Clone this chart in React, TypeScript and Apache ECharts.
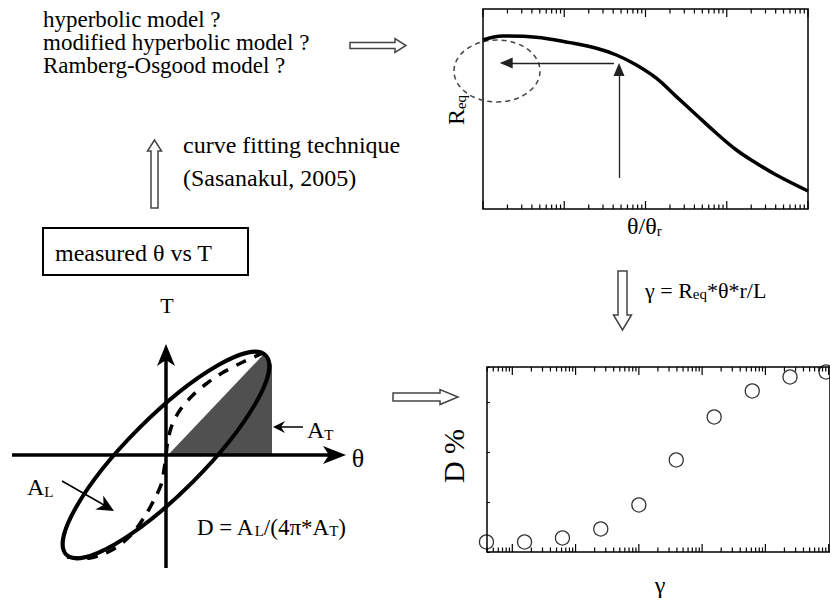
import React, { useEffect, useRef } from 'react';
import * as echarts from 'echarts';

const FONT = 'Liberation Serif, serif';

// ---- Top chart: R_eq versus θ/θr (log axis) ----
const THETA_RATIO = [0.0001, 0.000176, 0.00045, 0.00117, 0.00249, 0.00439, 0.00773, 0.0136, 0.024, 0.0423, 0.0746, 0.1315, 0.232, 0.408, 1.0];
const REQ = [0.845, 0.865, 0.859, 0.832, 0.804, 0.77, 0.72, 0.654, 0.562, 0.47, 0.379, 0.295, 0.229, 0.17, 0.09];
const TOP_X_MIN = 0.0001;
const TOP_X_MAX = 1;
const TOP_X_MAJOR = [0.0001, 0.001, 0.01, 0.1, 1];
// annotation arrows (data coordinates)
const ARROW_UP_X = 0.00472;
const ARROW_UP_FROM = 0.155;
const ARROW_UP_TO = 0.6975;
const ARROW_LEFT_FROM = 0.00409;
const ARROW_LEFT_TO = 0.000193;
const ARROW_LEFT_Y = 0.73;

// ---- Bottom chart: D % versus γ (log axis) ----
const GAMMA = [0.000039, 0.000156, 0.00062, 0.0025, 0.01, 0.039, 0.155, 0.62, 2.45, 9.1];
const DAMPING = [1.0, 1.0, 1.4, 2.3, 4.7, 9.2, 13.5, 16.1, 17.5, 18.0];
const BOT_X_MIN = 0.0000398;
const BOT_X_MAX = 10.5;
const BOT_X_MAJOR = [0.00001, 0.0001, 0.001, 0.01, 0.1, 1, 10];
const MINOR_MULT = [2, 3, 4, 5, 6, 7, 8, 9];

function buildTicks(majors: number[], min: number, max: number) {
  const out: number[][] = [];
  majors.forEach((m) => {
    if (m >= min * 0.999 && m <= max * 1.001) out.push([m, 0, 8]);
    MINOR_MULT.forEach((k) => {
      const v = m * k;
      if (v > min && v < max) out.push([v, 0, 4.5]);
    });
  });
  return out;
}

const tickRender = (params: any, api: any) => {
  const p = api.coord([api.value(0), api.value(1)]);
  const len = api.value(2);
  const cs = params.coordSys;
  const x = p[0];
  const yb = cs.y + cs.height;
  return {
    type: 'group',
    children: [
      { type: 'line', shape: { x1: x, y1: yb, x2: x, y2: yb - len }, style: { stroke: '#000', lineWidth: 1.2 } },
      { type: 'line', shape: { x1: x, y1: cs.y, x2: x, y2: cs.y + len }, style: { stroke: '#000', lineWidth: 1.2 } },
    ],
  };
};

const SUB = { fontSize: 15, fontFamily: FONT, lineHeight: 12, verticalAlign: 'bottom', fill: '#000' };

function txt(text: string, x: number, y: number, fontSize = 24, align = 'left', rotation = 0, lineHeight?: number) {
  return {
    type: 'text',
    x,
    y,
    rotation,
    style: {
      text,
      fontSize,
      fontFamily: FONT,
      fill: '#000',
      align,
      verticalAlign: 'middle',
      lineHeight: lineHeight ?? fontSize,
      rich: { s: SUB },
    },
  };
}

function hollow(points: number[][]) {
  return { type: 'polygon', shape: { points }, style: { fill: '#fff', stroke: '#444', lineWidth: 1.5 } };
}

function headPoly(tip: number[], dir: number[], len: number, half: number, notch: number) {
  const l = Math.hypot(dir[0], dir[1]);
  const u = [dir[0] / l, dir[1] / l];
  const n = [-u[1], u[0]];
  const b = [tip[0] - len * u[0], tip[1] - len * u[1]];
  const nt = [tip[0] - notch * u[0], tip[1] - notch * u[1]];
  return {
    type: 'polygon',
    shape: { points: [tip, [b[0] + half * n[0], b[1] + half * n[1]], nt, [b[0] - half * n[0], b[1] - half * n[1]]] },
    style: { fill: '#000' },
  };
}

export default function App() {
  const ref = useRef<HTMLDivElement>(null);
  useEffect(() => {
    if (!ref.current) return;
    const chart = echarts.init(ref.current, null, { renderer: 'svg' });

    const backbone = [
      [67, 557], [90, 558], [112, 550], [131, 535], [145, 516], [154, 500], [161, 485], [164, 470],
      [166, 455], [168, 440], [172, 425], [180, 410], [192, 396], [206, 384], [222, 373], [243, 362], [263, 353],
    ];

    const graphics: any[] = [
      // left texts
      txt('hyperbolic model ?', 43, 19, 23, 'left', 0, 20),
      txt('modified hyperbolic model ?', 43, 42, 23, 'left', 0, 20),
      txt('Ramberg-Osgood model ?', 43, 65, 23, 'left', 0, 20),
      txt('curve fitting technique', 183, 145),
      txt('(Sasanakul, 2005)', 183, 178),
      { type: 'rect', shape: { x: 43, y: 228, width: 205, height: 47 }, style: { fill: 'none', stroke: '#000', lineWidth: 2 } },
      txt('measured θ vs T', 55, 253),
      // hollow arrows
      hollow([[350, 42.5], [395, 42.5], [395, 38.5], [406, 45.5], [395, 52.5], [395, 48.5], [350, 48.5]]),
      hollow([[154.5, 140], [161.5, 151], [158, 151], [158, 208], [151, 208], [151, 151], [147.5, 151]]),
      hollow([[618, 271], [627, 271], [627, 315], [631.5, 315], [622.5, 330], [613.5, 315], [618, 315]]),
      hollow([[393, 393], [440, 393], [440, 389.5], [458, 397], [440, 404.5], [440, 401], [393, 401]]),
      // top chart annotations
      { type: 'ellipse', shape: { cx: 497, cy: 71, rx: 43, ry: 31 }, style: { fill: 'none', stroke: '#444', lineWidth: 1.5, lineDash: [5, 4] } },
      txt('R{s|eq}', 456, 110, 24, 'center', Math.PI / 2),
      txt('θ/θ{s|r}', 627, 226, 24, 'left'),
      txt('γ = R{s|eq}*θ*r/L', 645, 290, 22, 'left'),
      // bottom chart labels
      txt('D %', 453, 456, 30, 'center', Math.PI / 2),
      txt('γ', 660, 585, 24, 'center', 0, 20),
      // hysteresis schematic
      { type: 'polygon', shape: { points: [[168, 455], [263, 355], [269, 357], [272, 365], [272, 455]] }, style: { fill: '#505050' } },
      { type: 'polyline', shape: { points: backbone, smooth: 0.3 }, style: { stroke: '#000', lineWidth: 3.5, lineDash: [11, 9], fill: 'none' } },
      { type: 'ellipse', x: 166, y: 455, rotation: Math.PI / 4, shape: { cx: 0, cy: 0, rx: 141, ry: 38 }, style: { fill: 'none', stroke: '#000', lineWidth: 4 } },
      { type: 'line', shape: { x1: 12, y1: 455, x2: 330, y2: 455 }, style: { stroke: '#000', lineWidth: 3.5 } },
      headPoly([346, 455], [1, 0], 23, 9, 17),
      { type: 'line', shape: { x1: 166, y1: 568, x2: 166, y2: 360 }, style: { stroke: '#000', lineWidth: 3.5 } },
      headPoly([166, 344], [0, -1], 22, 9, 16),
      { type: 'line', shape: { x1: 303, y1: 427, x2: 280, y2: 427 }, style: { stroke: '#000', lineWidth: 1.5 } },
      headPoly([273, 427], [-1, 0], 12, 6, 8),
      { type: 'line', shape: { x1: 62, y1: 481, x2: 104, y2: 505 }, style: { stroke: '#000', lineWidth: 1.5 } },
      headPoly([114, 511], [49, 28], 17, 8, 12),
      txt('T', 167, 305, 22, 'center'),
      txt('θ', 358, 458, 26, 'center'),
      txt('A{s|T}', 307, 430, 24, 'left'),
      txt('A{s|L}', 27, 487, 24, 'left'),
      txt('D = A{s|L}/(4π*A{s|T})', 197, 527, 23, 'left'),
    ];

    const hiddenAxis = {
      axisLine: { show: false },
      axisTick: { show: false },
      axisLabel: { show: false },
      splitLine: { show: false },
    };

    chart.setOption({
      animation: false,
      backgroundColor: '#fff',
      grid: [
        { left: 483, top: 9, width: 325, height: 200, show: true, borderColor: '#000', borderWidth: 1.5, backgroundColor: 'transparent' },
        { left: 487, top: 367, width: 345, height: 185, show: true, borderColor: '#000', borderWidth: 1.5, backgroundColor: 'transparent' },
      ],
      xAxis: [
        { type: 'log', gridIndex: 0, min: TOP_X_MIN, max: TOP_X_MAX, ...hiddenAxis },
        { type: 'log', gridIndex: 1, min: BOT_X_MIN, max: BOT_X_MAX, ...hiddenAxis },
      ],
      yAxis: [
        { type: 'value', gridIndex: 0, min: 0, max: 1, ...hiddenAxis },
        {
          type: 'value', gridIndex: 1, min: 0, max: 18.5, interval: 5,
          axisLine: { show: false },
          axisTick: { show: true, inside: true, length: 3, lineStyle: { color: '#000', width: 1 } },
          axisLabel: { show: false },
          splitLine: { show: false },
        },
      ],
      series: [
        {
          type: 'line',
          xAxisIndex: 0,
          yAxisIndex: 0,
          data: THETA_RATIO.map((t, i) => [t, REQ[i]]),
          smooth: 0.4,
          showSymbol: false,
          lineStyle: { color: '#000', width: 3.5 },
          silent: true,
          markLine: {
            silent: true,
            symbol: ['none', 'triangle'],
            symbolSize: [11, 13],
            itemStyle: { color: '#000' },
            lineStyle: { color: '#222', width: 1.3, type: 'solid' },
            label: { show: false },
            emphasis: { disabled: true },
            data: [
              [{ coord: [ARROW_UP_X, ARROW_UP_FROM] }, { coord: [ARROW_UP_X, ARROW_UP_TO] }],
              [{ coord: [ARROW_LEFT_FROM, ARROW_LEFT_Y] }, { coord: [ARROW_LEFT_TO, ARROW_LEFT_Y] }],
            ],
          },
        },
        {
          type: 'custom',
          xAxisIndex: 0,
          yAxisIndex: 0,
          data: buildTicks(TOP_X_MAJOR, TOP_X_MIN, TOP_X_MAX),
          encode: { x: 0, y: 1 },
          renderItem: tickRender,
          silent: true,
        },
        {
          type: 'scatter',
          xAxisIndex: 1,
          yAxisIndex: 1,
          data: GAMMA.map((g, i) => [g, DAMPING[i]]),
          symbol: 'circle',
          symbolSize: 14,
          clip: false,
          itemStyle: { color: 'rgba(0,0,0,0)', borderColor: '#000', borderWidth: 1.3 },
          silent: true,
        },
        {
          type: 'custom',
          xAxisIndex: 1,
          yAxisIndex: 1,
          data: buildTicks(BOT_X_MAJOR, BOT_X_MIN, BOT_X_MAX),
          encode: { x: 0, y: 1 },
          renderItem: tickRender,
          silent: true,
        },
      ],
      graphic: { elements: graphics },
    });

    return () => chart.dispose();
  }, []);

  return <div ref={ref} style={{ position: 'absolute', left: 0, top: 0, width: 830, height: 600 }} />;
}
